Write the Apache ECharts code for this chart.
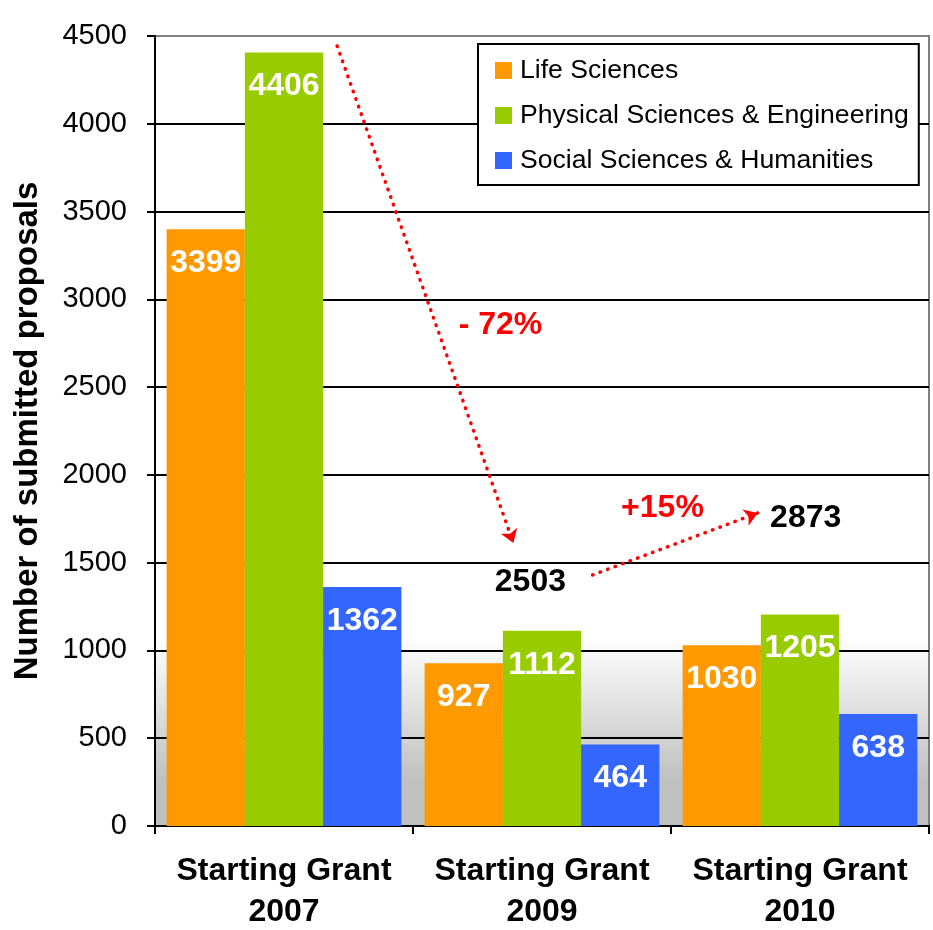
<!DOCTYPE html>
<html>
<head>
<meta charset="utf-8">
<script src="https://cdn.jsdelivr.net/npm/echarts@6/dist/echarts.min.js"></script>
<style>
  html, body { margin: 0; padding: 0; background: #fff; }
  #main { width: 933px; height: 930px; }
</style>
</head>
<body>
<div id="main"></div>
<script>
// data
var categories = ['Starting Grant\n2007', 'Starting Grant\n2009', 'Starting Grant\n2010'];
var lifeSciences = [3399, 927, 1030];
var physicalSciences = [4406, 1112, 1205];
var socialSciences = [1362, 464, 638];
var seriesNames = ['Life Sciences', 'Physical Sciences & Engineering', 'Social Sciences & Humanities'];
var yTicks = [0, 500, 1000, 1500, 2000, 2500, 3000, 3500, 4000, 4500];

// annotations: x in category units (0..3), y in axis units
var totals = [0, 1, 2].map(function (i) {
    return lifeSciences[i] + physicalSciences[i] + socialSciences[i];
});
var totalLabels = [
    { text: String(totals[0]), x: 0.524, y: 4591 },
    { text: String(totals[1]), x: 1.455, y: 1390 },
    { text: String(totals[2]), x: 2.522, y: 1754 }
];
var changeLabels = [
    { text: '- 72%', x: 1.339, y: 2854 },
    { text: '+15%', x: 1.967, y: 1811 }
];
var arrows = [
    [[0.706, 4443], [1.389, 1612]],
    [[1.696, 1430], [2.336, 1783]]
];

var chartDom = document.getElementById('main');
var myChart = echarts.init(chartDom);
var font = '"Liberation Sans", Arial, sans-serif';

var barLabel = {
    show: true,
    position: 'insideTop',
    distance: 18,
    color: '#fff',
    fontSize: 32,
    fontWeight: 'bold',
    fontFamily: font
};

function barSeries(name, data, color) {
    return {
        name: name,
        type: 'bar',
        data: data,
        barGap: 0,
        barCategoryGap: '9%',
        itemStyle: { color: color },
        label: barLabel,
        z: 3
    };
}

function textSeries(items, color) {
    return {
        type: 'scatter',
        xAxisIndex: 1,
        yAxisIndex: 0,
        symbolSize: 0,
        itemStyle: { opacity: 1 },
        data: items.map(function (d) { return { name: d.text, value: [d.x, d.y] }; }),
        label: {
            show: true,
            position: 'inside',
            formatter: '{b}',
            color: color,
            opacity: 1,
            fontSize: 32,
            fontWeight: 'bold',
            fontFamily: font
        },
        z: 7
    };
}

var option = {
    animation: false,
    textStyle: { fontFamily: font },
    grid: {
        left: 155,
        right: 4,
        top: 36,
        bottom: 104,
        outerBoundsMode: 'none',
        containLabel: false,
        show: true,
        borderColor: '#808080',
        borderWidth: 2,
        backgroundColor: new echarts.graphic.LinearGradient(0, 0, 0, 1, [
            { offset: 0, color: '#ffffff' },
            { offset: 0.76, color: '#ffffff' },
            { offset: 0.94, color: '#c0c0c0' },
            { offset: 1, color: '#c0c0c0' }
        ])
    },
    legend: {
        orient: 'vertical',
        left: 478,
        top: 44,
        data: seriesNames,
        backgroundColor: '#fff',
        borderColor: '#000',
        borderWidth: 2,
        padding: [13, 10, 11, 17],
        itemGap: 18,
        itemWidth: 17,
        itemHeight: 17,
        icon: 'rect',
        textStyle: { fontSize: 26.6, color: '#000', fontFamily: font, padding: [0, 0, 0, 3] },
        z: 10
    },
    xAxis: [{
        type: 'category',
        data: categories,
        axisLine: { lineStyle: { color: '#000', width: 2 } },
        axisTick: { show: true, interval: 0, length: 8, lineStyle: { color: '#000', width: 2 } },
        axisLabel: {
            interval: 0,
            margin: 25,
            color: '#000',
            fontSize: 32,
            fontWeight: 'bold',
            lineHeight: 41,
            fontFamily: font
        },
        splitLine: { show: false }
    }, {
        type: 'value',
        min: 0,
        max: 3,
        show: false
    }],
    yAxis: {
        type: 'value',
        min: yTicks[0],
        max: yTicks[yTicks.length - 1],
        interval: 500,
        name: 'Number of submitted proposals',
        nameLocation: 'middle',
        nameGap: 111,
        nameTextStyle: { fontSize: 33, fontWeight: 'bold', color: '#000', fontFamily: font },
        axisLine: { show: true, lineStyle: { color: '#000', width: 2 } },
        axisTick: { show: true, length: 8, lineStyle: { color: '#000', width: 2 } },
        axisLabel: {
            margin: 28,
            color: '#000',
            fontSize: 29,
            fontFamily: font,
            formatter: function (v) { return String(v); }
        },
        splitLine: { show: true, showMaxLine: false, lineStyle: { color: '#000', width: 2 } }
    },
    series: [
        barSeries(seriesNames[0], lifeSciences, '#FF9900'),
        barSeries(seriesNames[1], physicalSciences, '#99CC00'),
        barSeries(seriesNames[2], socialSciences, '#3366FF'),
        {
            type: 'lines',
            coordinateSystem: 'cartesian2d',
            xAxisIndex: 1,
            yAxisIndex: 0,
            symbol: ['none', 'arrow'],
            symbolSize: 13,
            lineStyle: { color: '#FF0000', width: 3.5, type: [0.5, 7.5], cap: 'round', opacity: 1 },
            data: arrows.map(function (a) { return { coords: a }; }),
            z: 6
        },
        textSeries(totalLabels, '#000'),
        textSeries(changeLabels, '#FF0000')
    ]
};

option && myChart.setOption(option);
</script>
</body>
</html>
